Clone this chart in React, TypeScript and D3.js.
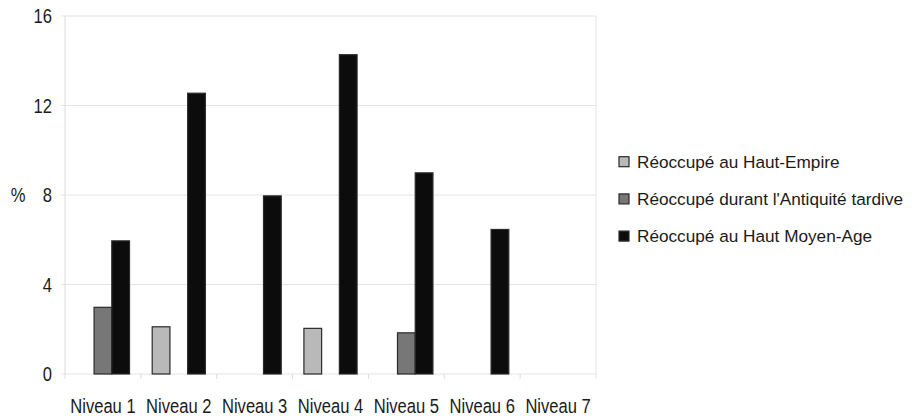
import React from "react";
import * as d3 from "d3";

const categories = ["Niveau 1", "Niveau 2", "Niveau 3", "Niveau 4", "Niveau 5", "Niveau 6", "Niveau 7"];
const seriesNames = [
  "Réoccupé au Haut-Empire",
  "Réoccupé durant l'Antiquité tardive",
  "Réoccupé au Haut Moyen-Age",
];
const hautEmpire = [0, 2.11, 0, 2.04, 0, 0, 0];
const antiquiteTardive = [2.98, 0, 0, 0, 1.84, 0, 0];
const hautMoyenAge = [5.95, 12.55, 7.96, 14.27, 8.99, 6.46, 0];
const yTicks = [0, 4, 8, 12, 16];
const seriesColors = ["#b9b9b9", "#777777", "#0c0c0c"];

const W = 912;
const H = 419;
const M = { left: 65, right: 316, top: 16, bottom: 45 };

export default function App() {
  const seriesValues = [hautEmpire, antiquiteTardive, hautMoyenAge];
  const x0 = d3.scaleBand<string>().domain(categories).range([M.left, W - M.right]).paddingInner(0).paddingOuter(0);
  const x1 = d3
    .scaleBand<string>()
    .domain(seriesNames)
    .range([0, x0.bandwidth()])
    .paddingInner(0)
    .paddingOuter(0.64);
  const y = d3.scaleLinear().domain([0, 16]).range([H - M.bottom, M.top]);
  const axisFont = "'Liberation Sans', Arial, sans-serif";
  const sx = 0.85;
  const x0r = W - M.right;
  return (
    <svg width={W} height={H} style={{ position: "absolute", left: 0, top: 0, background: "#fff" }}>
      {/* gridlines */}
      {yTicks.map((t) => (
        <line key={"g" + t} x1={M.left - 4} x2={x0r} y1={y(t)} y2={y(t)} stroke="#e4e4e4" strokeWidth={1} />
      ))}
      <line x1={M.left} x2={M.left} y1={y(16)} y2={y(0) + 5} stroke="#dcdcdc" />
      <line x1={x0r} x2={x0r} y1={y(16)} y2={y(0) + 5} stroke="#e4e4e4" />
      {categories.map((c, i) =>
        i > 0 ? (
          <line key={"xt" + c} x1={x0(c)!} x2={x0(c)!} y1={y(0)} y2={y(0) + 5} stroke="#dcdcdc" />
        ) : null
      )}
      {/* bars */}
      {categories.map((c, i) => (
        <g key={c} transform={`translate(${x0(c)},0)`}>
          {seriesNames.map((s, k) => {
            const v = seriesValues[k][i];
            if (!v) return null;
            return (
              <rect
                key={s}
                x={x1(s)!}
                y={y(v)}
                width={x1.bandwidth()}
                height={y(0) - y(v)}
                fill={seriesColors[k]}
                stroke="#2a2a2a"
                strokeWidth={1.2}
              />
            );
          })}
        </g>
      ))}
      {/* y tick labels */}
      {yTicks.map((t) => (
        <text
          key={"yl" + t}
          transform={`translate(52,${y(t)}) scale(${sx},1)`}
          dy="0.36em"
          textAnchor="end"
          fontFamily={axisFont}
          fontSize={19.5}
          fill="#1a1a1a"
        >
          {t}
        </text>
      ))}
      <text
        transform={`translate(18,${y(8)}) scale(${sx},1)`}
        dy="0.36em"
        textAnchor="middle"
        fontFamily={axisFont}
        fontSize={19.5}
        fill="#1a1a1a"
      >
        %
      </text>
      {/* x labels */}
      {categories.map((c) => (
        <text
          key={"xl" + c}
          transform={`translate(${x0(c)! + x0.bandwidth() / 2},412.5) scale(${sx},1)`}
          textAnchor="middle"
          fontFamily={axisFont}
          fontSize={19.5}
          fill="#1a1a1a"
        >
          {c}
        </text>
      ))}
      {/* legend */}
      {seriesNames.map((s, k) => (
        <g key={"lg" + s} transform={`translate(619,${161.7 + k * 37.2})`}>
          <rect x={0} y={-5} width={10} height={10} fill={seriesColors[k]} stroke="#2a2a2a" strokeWidth={1.2} />
          <text x={18} y={0} dy="0.36em" fontFamily="'Liberation Sans', Arial, sans-serif" fontSize={17.2} fill="#1a1a1a">
            {s}
          </text>
        </g>
      ))}
    </svg>
  );
}
